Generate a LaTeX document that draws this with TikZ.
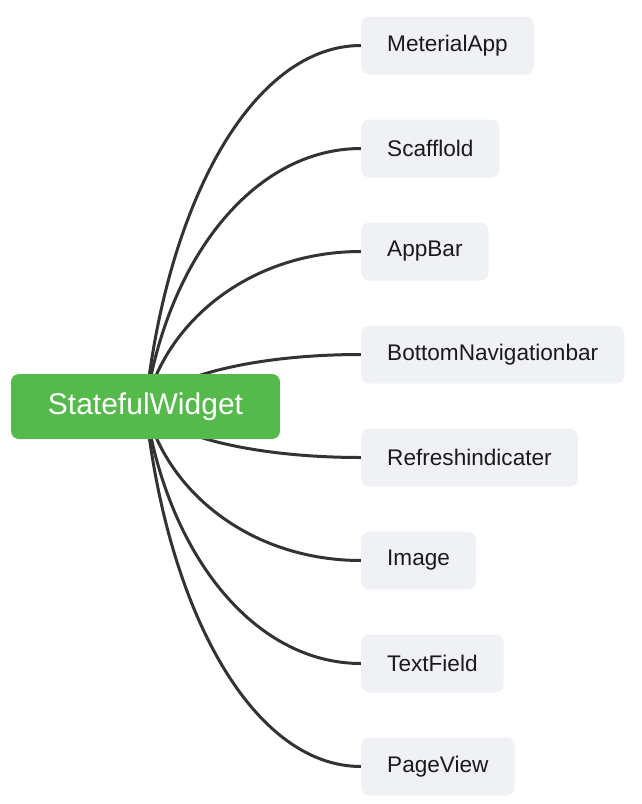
\documentclass[tikz,border=0pt]{standalone}
\usepackage{fontspec}
\setmainfont{Liberation Sans}
\usetikzlibrary{backgrounds,calc}
\definecolor{rootgreen}{RGB}{86,185,76}
\definecolor{childfill}{RGB}{240,241,245}
\definecolor{linecol}{RGB}{51,51,51}
\definecolor{textcol}{RGB}{26,26,26}
\tikzset{
  rootbox/.style={draw=none, fill=rootgreen, rounded corners=8pt, minimum width=269pt, minimum height=65pt, text=white, font=\fontsize{30}{34}\selectfont, inner sep=0pt},
  childbox/.style={draw=none, fill=childfill, rounded corners=8pt, minimum height=58pt, inner xsep=26pt, inner ysep=0pt, text=textcol, font=\fontsize{22.6}{26}\selectfont, anchor=west},
  conn/.style={draw=linecol, line width=3pt}
}
\begin{document}
\begin{tikzpicture}[x=1pt,y=-1pt]
\useasboundingbox (0,0) rectangle (642,804);
\node[rootbox] (r) at (145.5,406.5) {StatefulWidget};
\node[childbox] (c1) at (361,45.5) {MeterialApp};
\node[childbox] (c2) at (361,148.5) {Scafflold};
\node[childbox] (c3) at (361,251.5) {AppBar};
\node[childbox] (c4) at (361,354.5) {BottomNavigationbar};
\node[childbox] (c5) at (361,457.5) {Refreshindicater};
\node[childbox] (c6) at (361,560.5) {Image};
\node[childbox] (c7) at (361,663.5) {TextField};
\node[childbox] (c8) at (361,766.5) {PageView};
\begin{pgfonlayer}{background}
\foreach \c in {c1,c2,c3,c4,c5,c6,c7,c8}{
  \draw[conn] let \p1=(r.center), \p2=(\c.west) in
    (\p1) .. controls ({\x1+0.1*(\x2-\x1)},{\y1+0.57*(\y2-\y1)}) and ({\x1+0.5*(\x2-\x1)},\y2) .. (\p2);
}
\end{pgfonlayer}
\end{tikzpicture}
\end{document}
